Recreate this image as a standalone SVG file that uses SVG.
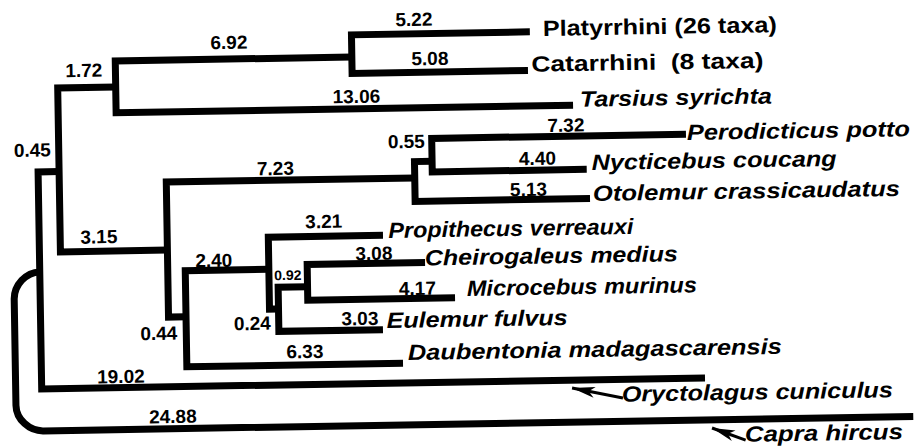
<svg xmlns="http://www.w3.org/2000/svg" width="914" height="447" viewBox="0 0 914 447">
<defs>
<style>
.br{fill:none;stroke:#000;stroke-width:7;stroke-linejoin:miter;stroke-linecap:butt}
.ar{fill:none;stroke:#000;stroke-width:3}
.lb{font-family:"Liberation Sans",Arial,sans-serif;font-weight:bold;font-size:19px;text-anchor:middle;fill:#000}
.sm{font-size:14px}
.tx{font-family:"Liberation Sans",Arial,sans-serif;font-weight:bold;font-size:22px;fill:#000}
.it{font-style:italic}
</style>
<marker id="ah" markerUnits="userSpaceOnUse" markerWidth="26" markerHeight="12" refX="23" refY="6" orient="auto">
<path d="M0,0.5 L23,6 L0,11.5 L6,6 z" fill="#000"/>
</marker>
</defs>
<rect width="914" height="447" fill="#fff"/>
<g transform="rotate(-0.95 457 223)">
<g id="connectors">
<path class="br" d="M60 165 H39 V382 H702.4"/>
<path class="br" d="M118 81.4 H60 V245.3 H167"/>
<path class="br" d="M354.6 55.3 H118 V107.1 H575"/>
<path class="br" d="M533 33.1 H354.6 V71.7 H530.5"/>
<path class="br" d="M415.5 177.2 H167 V312.3 H184.5"/>
<path class="br" d="M433.1 160.9 H415.5 V200.7 H590.4"/>
<path class="br" d="M687.4 138 H433.1 V171.5 H587.6"/>
<path class="br" d="M268.1 266.2 H184.5 V362.3 H400.7"/>
<path class="br" d="M382.8 234.1 H268.1 V306 H277.1"/>
<path class="br" d="M306.5 284.2 H277.1 V328.4 H381.2"/>
<path class="br" d="M424.4 262 H306.5 V297.7 H453.8"/>
<path class="br" d="M39 265 C25 265 13 278 13 292 V398 C13 412 26 424 40 424 H910"/>
<path class="ar" d="M620 400.7 L569.3 389.9" marker-end="url(#ah)"/>
<path class="ar" d="M742 444.8 L708.6 432.2" marker-end="url(#ah)"/>
</g>
<g id="branch-labels">
<text class="lb" x="417.3" y="25.3">5.22</text>
<text class="lb" x="432.6" y="64.6">5.08</text>
<text class="lb" x="231.9" y="45.2">6.92</text>
<text class="lb" x="86.4" y="70.8">1.72</text>
<text class="lb" x="358.5" y="101.3">13.06</text>
<text class="lb" x="33.6" y="149.7">0.45</text>
<text class="lb" x="98.7" y="237.4">3.15</text>
<text class="lb" x="276.3" y="172">7.23</text>
<text class="lb" x="567.5" y="133.5">7.32</text>
<text class="lb" x="407.7" y="147.2">0.55</text>
<text class="lb" x="538.5" y="166.3">4.40</text>
<text class="lb" x="529" y="197.2">5.13</text>
<text class="lb" x="323.8" y="225.8">3.21</text>
<text class="lb" x="213.2" y="263">2.40</text>
<text class="lb sm" x="287" y="277.2">0.92</text>
<text class="lb" x="373.4" y="258.6">3.08</text>
<text class="lb" x="416.3" y="294.3">4.17</text>
<text class="lb" x="358.3" y="323.4">3.03</text>
<text class="lb" x="250.7" y="326.6">0.24</text>
<text class="lb" x="157" y="335">0.44</text>
<text class="lb" x="302.8" y="355.5">6.33</text>
<text class="lb" x="118.4" y="377.4">19.02</text>
<text class="lb" x="169.7" y="418.3">24.88</text>
</g>
<g id="platyrrhini"><text class="tx" x="546" y="37.4" textLength="234" lengthAdjust="spacingAndGlyphs">Platyrrhini (26 taxa)</text></g>
<g id="catarrhini"><text class="tx" x="534" y="72.9" textLength="232" lengthAdjust="spacingAndGlyphs" xml:space="preserve">Catarrhini  (8 taxa)</text></g>
<g id="tarsius"><text class="tx it" x="582" y="108.7" textLength="192" lengthAdjust="spacingAndGlyphs">Tarsius syrichta</text></g>
<g id="perodicticus"><text class="tx it" x="688.4" y="143.8" textLength="223" lengthAdjust="spacingAndGlyphs">Perodicticus potto</text></g>
<g id="nycticebus"><text class="tx it" x="592.6" y="172.2" textLength="245" lengthAdjust="spacingAndGlyphs">Nycticebus coucang</text></g>
<g id="otolemur"><text class="tx it" x="593.4" y="203.3" textLength="307" lengthAdjust="spacingAndGlyphs">Otolemur crassicaudatus</text></g>
<g id="propithecus"><text class="tx it" x="388.3" y="236.8" textLength="245" lengthAdjust="spacingAndGlyphs">Propithecus verreauxi</text></g>
<g id="cheirogaleus"><text class="tx it" x="424.3" y="264.9" textLength="253" lengthAdjust="spacingAndGlyphs">Cheirogaleus medius</text></g>
<g id="microcebus"><text class="tx it" x="465.8" y="296.2" textLength="230" lengthAdjust="spacingAndGlyphs">Microcebus murinus</text></g>
<g id="eulemur"><text class="tx it" x="385" y="326.8" textLength="181" lengthAdjust="spacingAndGlyphs">Eulemur fulvus</text></g>
<g id="daubentonia"><text class="tx it" x="405.7" y="359.2" textLength="374" lengthAdjust="spacingAndGlyphs">Daubentonia madagascarensis</text></g>
<g id="oryctolagus"><text class="tx it" x="619" y="404.4" textLength="271" lengthAdjust="spacingAndGlyphs">Oryctolagus cuniculus</text></g>
<g id="capra"><text class="tx it" x="741.4" y="446.5" textLength="158" lengthAdjust="spacingAndGlyphs">Capra hircus</text></g>
</g>
</svg>
